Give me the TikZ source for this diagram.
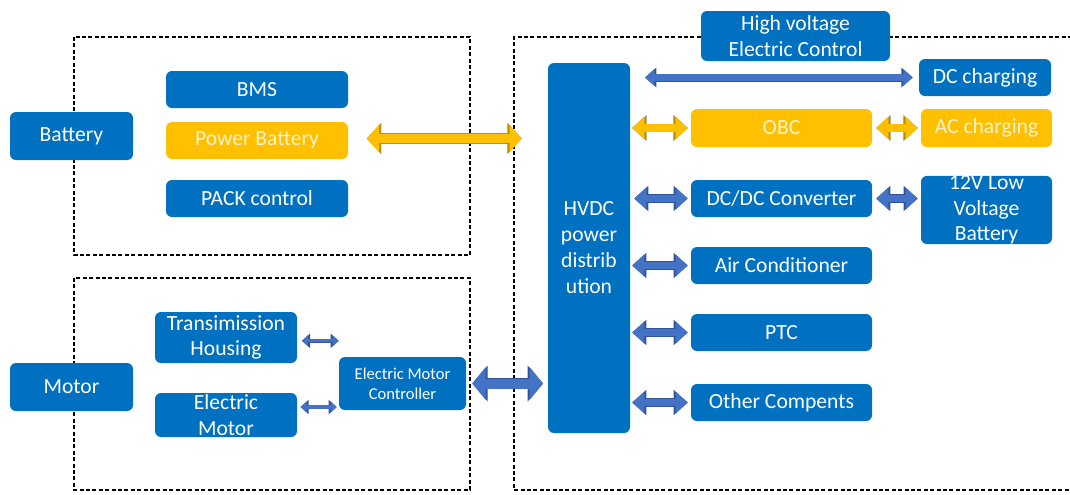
\documentclass[tikz,border=0pt]{standalone}
\usepackage{fontspec}
\setmainfont{Carlito}
\usetikzlibrary{arrows.meta}

\definecolor{boxblue}{HTML}{0070C0}
\definecolor{boxyellow}{HTML}{FFC000}
\definecolor{paletext}{HTML}{FFF2CC}
\definecolor{arrowblue}{HTML}{4472C4}
\definecolor{arrowedge}{HTML}{2F5597}
\definecolor{arrowgold}{HTML}{BF9000}

\tikzset{
  blk/.style={draw=none, fill=boxblue, rounded corners=4.5pt, inner sep=0pt,
    text=white, align=center, font=\fontsize{16.2}{19}\selectfont},
  yblk/.style={blk, fill=boxyellow, text=paletext},
  dims/.style 2 args={minimum width=#1*0.75pt, minimum height=#2*0.75pt},
  group/.style={draw=black, line width=1.1pt, dash pattern=on 3pt off 1.8pt},
  link/.style n args={3}{draw=arrowblue, line width=#1,
    arrows={Triangle[width=#2,length=#3]-Triangle[width=#2,length=#3]},
    preaction={draw=arrowedge, line width=#1+1.2pt,
      arrows={Triangle[width=#2+2.4pt,length=#3+1.6pt]-Triangle[width=#2+2.4pt,length=#3+1.6pt]}}},
  ylink/.style n args={3}{link={#1}{#2}{#3}, draw=boxyellow,
    preaction={draw=arrowgold, line width=#1+1.2pt,
      arrows={Triangle[width=#2+2.4pt,length=#3+1.6pt]-Triangle[width=#2+2.4pt,length=#3+1.6pt]}}}
}

\begin{document}
\begin{tikzpicture}[x=0.75pt, y=-0.75pt]
    \useasboundingbox (0,0) rectangle (1070,494);

    % Dashed group frames
    \draw[group] (74,37) rectangle (470,255);
    \draw[group] (74,278) rectangle (470,490);
    \draw[group] (1072,37) -- (514,37) -- (514,490) -- (1072,490);

    % Battery group
    \node[blk, dims={123}{48}] (battery) at (71.5,136) {Battery};
    \node[blk, dims={182}{37}] (bms) at (257,89.5) {BMS};
    \node[yblk, dims={182}{37}] (pbat) at (257,140.5) {Power Battery};
    \node[blk, dims={182}{37}] (pack) at (257,198.5) {PACK control};

    % Motor group
    \node[blk, dims={123}{48}] (motor) at (71.5,387) {Motor};
    \node[blk, dims={142}{51}] (housing) at (226,337.5) {Transimission\\Housing};
    \node[blk, dims={142}{44}] (emotor) at (226,415) {Electric\\Motor};
    \node[blk, dims={127}{53}, font=\fontsize{12.4}{15}\selectfont] (emc) at (402.5,383.5) {Electric Motor\\Controller};

    % High voltage group
    \node[blk, dims={189}{50}] (hvec) at (795.5,36) {High voltage\\Electric Control};
    \node[blk, dims={82}{370}, font=\fontsize{16.2}{19.5}\selectfont] (hvdc) at (589,248) {HVDC\\power\\distrib\\ution};
    \node[blk, dims={132}{37}] (dcchg) at (985,77.5) {DC charging};
    \node[yblk, dims={181}{38}] (obc) at (781.5,128) {OBC};
    \node[yblk, dims={131}{38}] (acchg) at (986.5,128) {AC charging};
    \node[blk, dims={181}{37}] (dcdc) at (781.5,198.5) {DC/DC Converter};
    \node[blk, dims={131}{66}] (lvbat) at (986.5,210) {12V Low\\Voltage\\Battery};
    \node[blk, dims={181}{37}] (aircon) at (781.5,265.5) {Air Conditioner};
    \node[blk, dims={181}{37}] (ptc) at (781.5,332.5) {PTC};
    \node[blk, dims={181}{37}] (other) at (781.5,402.5) {Other Compents};

    % Battery and motor links
    \draw[ylink={7pt}{20pt}{9pt}, shorten <=14pt, shorten >=19.5pt] ([yshift=1.5pt]pbat.east) -- ([yshift=1.5pt]pbat.east -| hvdc.west);
    \draw[link={2.3pt}{8pt}{4.5pt}, shorten <=3.5pt] ([yshift=-2.5pt]housing.east) -- ([yshift=-2.5pt]housing.east -| emc.west);
    \draw[link={2.3pt}{8pt}{4.5pt}, shorten <=2.5pt, shorten >=1.5pt] ([yshift=6pt]emotor.east) -- ([yshift=6pt]emotor.east -| emc.west);
    \draw[link={7.5pt}{24pt}{10pt}, shorten <=4.5pt, shorten >=3.5pt] (emc.east) -- (emc.east -| hvdc.west);

    % High voltage links
    \draw[link={4.8pt}{12pt}{7pt}, shorten <=11pt, shorten >=4.5pt] (dcchg.west -| hvdc.east) -- (dcchg.west);
    \draw[ylink={5.5pt}{16pt}{9pt}, shorten <=1.5pt, shorten >=2.3pt] (obc.west -| hvdc.east) -- (obc.west);
    \draw[ylink={5.5pt}{16pt}{9pt}, shorten <=3pt, shorten >=2.3pt] (obc.east) -- (acchg.west);
    \draw[link={5.5pt}{16pt}{9pt}, shorten <=3pt, shorten >=2.3pt] (dcdc.west -| hvdc.east) -- (dcdc.west);
    \draw[link={5.5pt}{16pt}{9pt}, shorten <=3pt, shorten >=2.3pt] (dcdc.east) -- (dcdc.east -| lvbat.west);
    \draw[link={5.5pt}{16pt}{9pt}, shorten <=1.5pt, shorten >=2.3pt] (aircon.west -| hvdc.east) -- (aircon.west);
    \draw[link={5.5pt}{16pt}{9pt}, shorten <=1.5pt, shorten >=2.3pt] (ptc.west -| hvdc.east) -- (ptc.west);
    \draw[link={5.5pt}{16pt}{9pt}, shorten <=1.5pt, shorten >=2.3pt] (other.west -| hvdc.east) -- (other.west);

\end{tikzpicture}
\end{document}
